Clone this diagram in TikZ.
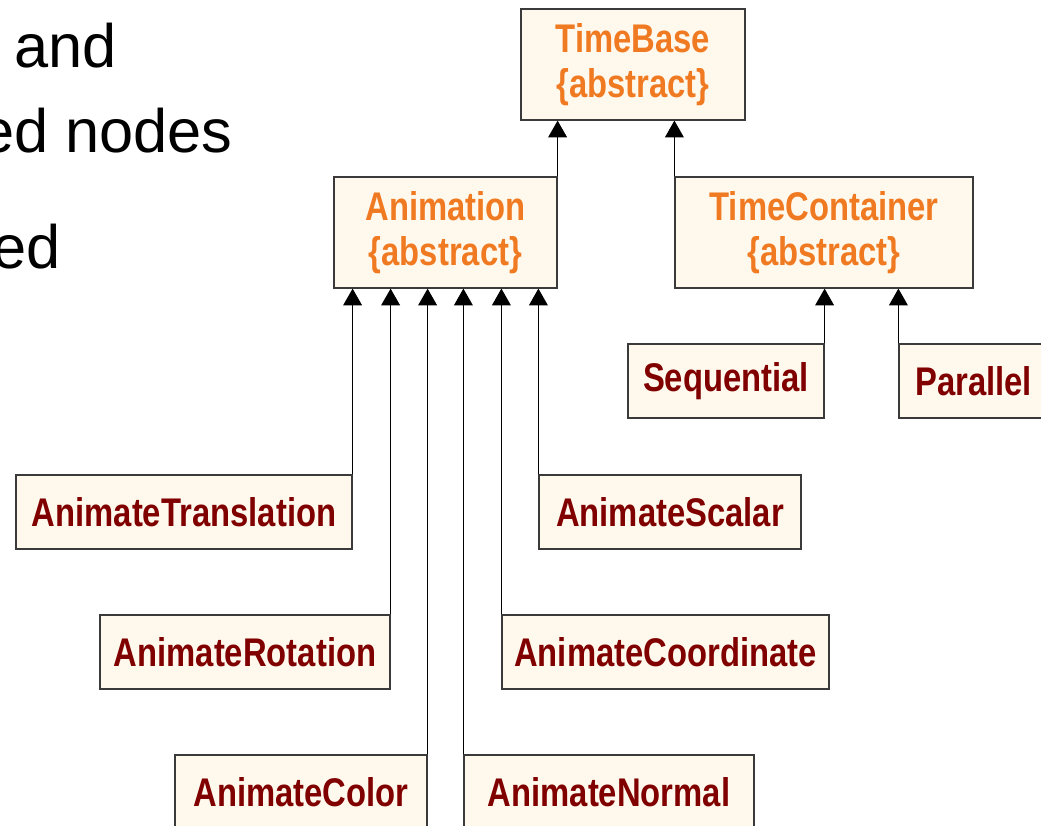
\documentclass[tikz,border=0pt]{standalone}
\usepackage{fontspec}
\setmainfont{Liberation Sans}
\newfontfamily\clsfont{Liberation Sans}[FakeStretch=0.82]
\usetikzlibrary{arrows.meta}

\definecolor{clsfill}{HTML}{FFF9ED}
\definecolor{clsline}{HTML}{3A3A3A}
\definecolor{absorange}{HTML}{F07A22}
\definecolor{concred}{HTML}{800000}

\tikzset{
  cls/.style={draw=clsline, fill=clsfill, line width=0.9pt, inner sep=0pt,
    font=\clsfont\bfseries\fontsize{30}{34}\selectfont, align=center},
  abs/.style={cls, text=absorange, minimum height=111*0.75pt},
  conc/.style={cls, text=concred, minimum height=74*0.75pt},
  inh/.style={line width=0.9pt, -{Triangle[width=14pt, length=12.5pt]}},
}

\begin{document}
\begin{tikzpicture}[x=0.75pt, y=-0.75pt]
    \useasboundingbox (0,0) rectangle (1041,825);
    \clip (0,0) rectangle (1041,825);

    % slide text running in from the left
    \begin{scope}[every node/.style={anchor=base east, inner sep=0pt, font=\fontsize{46}{46}\selectfont}]
      \node (l1) at (117,67) {and};
      \node (l2) at (233,152) {ed nodes};
      \node (l3) at (61,268) {ed};
    \end{scope}

    % abstract classes
    \node[abs, minimum width=224*0.75pt] (base) at (633,64.5) {TimeBase\\\{abstract\}};
    \node[abs, minimum width=223*0.75pt] (anim) at (445.5,232.5) {Animation\\\{abstract\}};
    \node[abs, minimum width=298*0.75pt] (cont) at (824,232.5) {TimeContainer\\\{abstract\}};

    % containers
    \node[conc, minimum width=196*0.75pt] (seq) at (726,381) {Sequential};
    \node[conc, minimum width=149*0.75pt] (par) at (973.5,381) {Parallel};

    % animations
    \node[conc, minimum width=336*0.75pt] (trans) at (184,512) {AnimateTranslation};
    \node[conc, minimum width=290*0.75pt] (rot) at (245,652) {AnimateRotation};
    \node[conc, minimum width=252*0.75pt] (col) at (301,792) {AnimateColor};
    \node[conc, minimum width=290*0.75pt] (norm) at (609,792) {AnimateNormal};
    \node[conc, minimum width=262*0.75pt] (scal) at (670,512) {AnimateScalar};
    \node[conc, minimum width=327*0.75pt] (coord) at (665.5,652) {AnimateCoordinate};

    % inheritance
    \draw[inh] (anim.north east) -- (anim.north east |- base.south);
    \draw[inh] (cont.north west) -- (cont.north west |- base.south);
    \draw[inh] (seq.north east) -- (seq.north east |- cont.south);
    \draw[inh] (par.north west) -- (par.north west |- cont.south);
    \foreach \n/\a in {trans/north east, rot/north east, col/north east,
                       norm/north west, coord/north west, scal/north west}
      \draw[inh] (\n.\a) -- (\n.\a |- anim.south);
  \end{tikzpicture}
\end{document}
